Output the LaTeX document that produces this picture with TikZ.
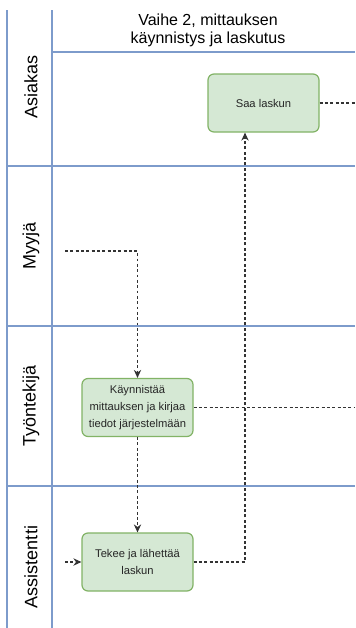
\documentclass[tikz,border=0pt]{standalone}
\usepackage{fontspec}
\setmainfont{Liberation Sans}
\usetikzlibrary{arrows.meta}
\definecolor{lanec}{HTML}{7D9BCB}
\definecolor{boxfill}{HTML}{D5E8D4}
\definecolor{boxdraw}{HTML}{82B366}
\definecolor{linec}{HTML}{333333}
\begin{document}
\begin{tikzpicture}[x=0.75pt,y=-0.75pt,
 lane/.style={draw=lanec,line width=0.9pt},
 task/.style={draw=boxdraw,fill=boxfill,rounded corners=4.5pt,line width=0.9pt,
   font=\fontsize{8.4}{12.75}\selectfont,align=center,inner sep=0pt,
   minimum width=83.25pt,minimum height=43.5pt,text=black!85},
 flow/.style={draw=linec,line width=0.9pt,dash pattern=on 2.2pt off 1.8pt},
 arr/.style={-{Stealth[length=6pt,width=5.5pt]}},
 lanelabel/.style={rotate=90,font=\fontsize{13.5}{16}\selectfont},
 header/.style={font=\fontsize{12}{13.5}\selectfont,align=center}]
\useasboundingbox (0,0) rectangle (355,628);
\fill[white] (0,0) rectangle (355,628);
% lane structure
\draw[lane] (7,10) -- (7,628);
\draw[lane] (52,10) -- (52,628);
\draw[lane] (52,52) -- (355,52);
\draw[lane] (7,166) -- (355,166);
\draw[lane] (7,326) -- (355,326);
\draw[lane] (7,486) -- (355,486);
% header and lane labels
\node[header] (hdr) at (208,30) {Vaihe 2, mittauksen\\käynnistys ja laskutus};
\node[lanelabel] (l1) at (31,87) {Asiakas};
\node[lanelabel] (l2) at (31,246) {Myyjä};
\node[lanelabel] (l3) at (31,406) {Työntekijä};
\node[lanelabel] (l4) at (31,567) {Assistentti};
% tasks
\node[task] (saa) at (263.5,103) {Saa laskun};
\node[task] (kay) at (137.5,407.5) {Käynnistää\\mittauksen ja kirjaa\\tiedot järjestelmään};
\node[task] (tek) at (137.5,562) {Tekee ja lähettää\\laskun};
% free ends
\coordinate (m0) at (65,251);
\coordinate (a0) at (65,562);
\coordinate (c4) at (245,562);
\coordinate (e1) at (355,103);
\coordinate (e2) at (355,407.5);
% connectors
\draw[flow,arr] (m0) -| (kay.north);
\draw[flow,arr] (kay.south) -- (tek.north);
\draw[flow,arr] (a0) -- (tek.west);
\draw[flow,arr] (tek.east) -- (c4) -- (c4 |- saa.south);
\draw[flow] (saa.east) -- (e1);
\draw[flow] (kay.east) -- (e2);
\end{tikzpicture}
\end{document}
